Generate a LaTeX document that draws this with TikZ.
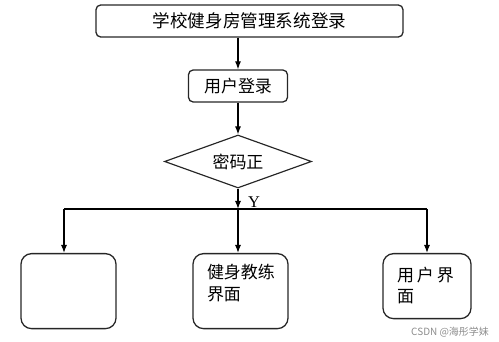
\documentclass[tikz,border=0pt]{standalone}
\usepackage{fontspec}
\setmainfont{Liberation Serif}
\newfontfamily\cjk{Noto Sans CJK SC}
\usetikzlibrary{arrows.meta,shapes.geometric}

\begin{document}
\begin{tikzpicture}[
  font=\cjk\fontsize{14.5}{19}\selectfont,
  titlebox/.style={rectangle,rounded corners=4pt,draw=black!85,line width=1.1pt,minimum width=2.97cm,minimum height=.96cm,inner sep=2pt},
  decision/.style={diamond,draw=black!85,line width=1pt,minimum width=4.41cm,minimum height=1.59cm,inner sep=0pt,aspect=2.77},
  panel/.style={rectangle,rounded corners=9pt,draw=black!85,line width=1.1pt,anchor=north,align=left,inner xsep=.42cm,inner ysep=.1cm},
  edge/.style={-{Latex[length=2.4mm,width=1.8mm]},line width=1pt,draw=black},
  branch/.style={line width=.9pt,draw=black},
  ylabel/.style={font=\rmfamily\fontsize{14}{16}\selectfont},
  credit/.style={font=\cjk\fontsize{8.5}{10}\selectfont,text=black!45}
]
\useasboundingbox (0,0) rectangle (14.97,-10.26);
% login flow, then the split into the three pages
\node[titlebox,minimum width=9.21cm,font=\cjk\fontsize{15}{18}\selectfont] (system) at (7.485,-.63) {学校健身房管理系统登录};
\node[titlebox] (login) at (7.14,-2.58) {用户登录};
\node[decision] (check) at (7.14,-4.845) {密码正};
\coordinate (split) at (7.14,-6.27);
\coordinate (splitL) at (1.92,-6.27);
\coordinate (splitR) at (12.81,-6.27);
\node[ylabel] (yes) at (7.62,-6.07) {Y};
\node[panel,text width=2.01cm,text height=.65cm,text depth=1.4cm] (blank) at (2.055,-7.59) {};
\node[panel,text width=2.01cm,text height=.65cm,text depth=1.4cm] (coach) at (7.215,-7.59) {健身教练\\界面};
\node[panel,text width=1.8cm,text height=.74cm,text depth=1.01cm,font=\cjk\fontsize{14.5}{17.5}\selectfont] (member) at (12.81,-7.59) {用\hspace{.09cm}户\hspace{.09cm}界\\面};
\node[credit] (csdn) at (13.5,-9.96) {CSDN @海彤学妹};

\draw[edge] (login.north |- system.south) -- (login.north);
\draw[edge] (login.south) -- (check.north);
\draw[edge] (check.south) -- (split);
\draw[branch] (splitL) -- (splitR);
\draw[edge] (splitL) -- (splitL |- blank.north);
\draw[edge] (split) -- (split |- coach.north);
\draw[edge] (splitR) -- (member.north);
\end{tikzpicture}
\end{document}
